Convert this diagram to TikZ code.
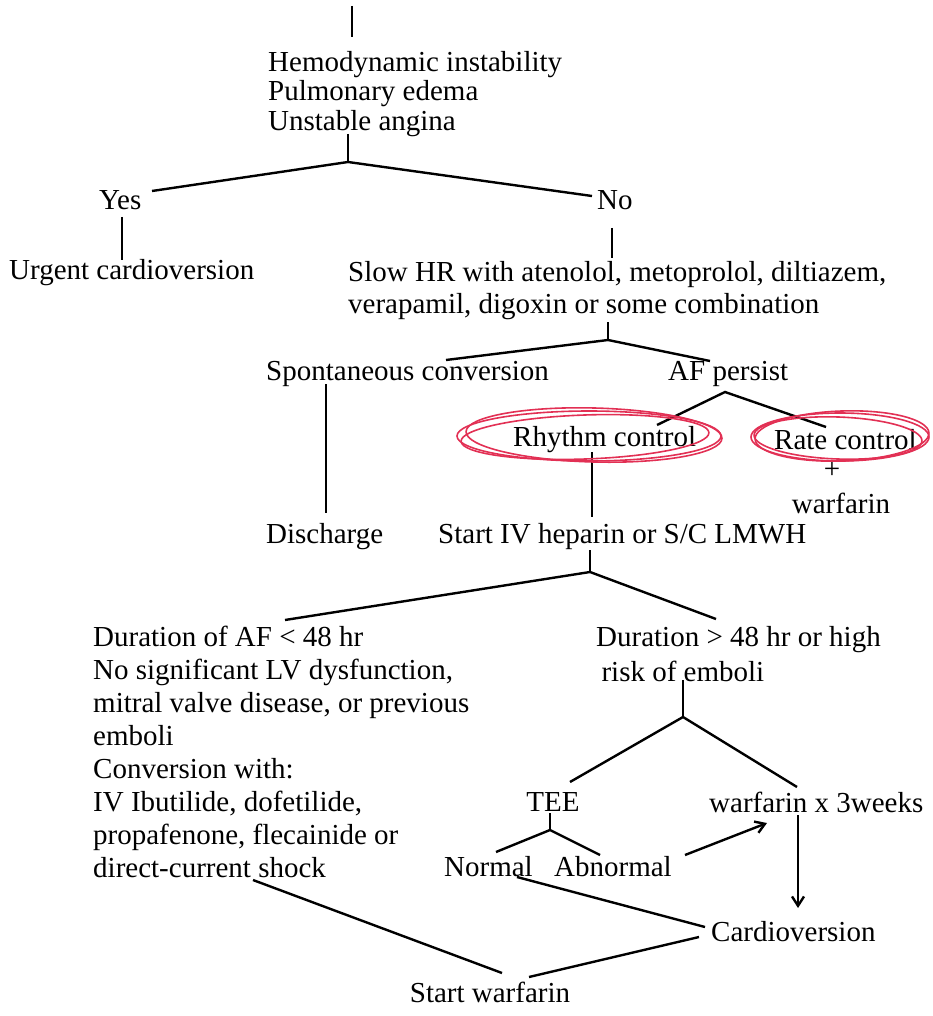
\documentclass[tikz,border=0pt]{standalone}
\usepackage{fontspec}
\setmainfont{Liberation Serif}
\usetikzlibrary{arrows.meta}

\definecolor{penred}{RGB}{226,48,84}

\tikzset{every picture/.style={line width=1.8pt}}
\tikzset{
  txt/.style={inner sep=0pt, anchor=west, align=left, font=\fontsize{21.75}{24.7}\selectfont},
  ctxt/.style={txt, anchor=center, align=center},
  penloop/.style={draw=penred, line width=1.2pt},
  barb/.style={-{Straight Barb[length=7pt,width=9pt]}}
}

\begin{document}
\begin{tikzpicture}[x=0.75pt,y=0.75pt,yscale=-1,xscale=1]
\useasboundingbox (0,0) rectangle (932,1016);

% Text Node
\node [txt, font=\fontsize{21.75}{22}\selectfont] (hemo) at (267,94) {Hemodynamic instability\\Pulmonary edema\\Unstable angina};
% Text Node
\node [txt] (yes) at (98,200) {Yes};
% Text Node
\node [txt] (no) at (596,200) {No};
% Text Node
\node [txt] (urgent) at (8,273) {Urgent cardioversion};
% Text Node
\node [txt, font=\fontsize{21.75}{24}\selectfont] (slow) at (347,291) {Slow HR with atenolol, metoprolol, diltiazem,\\verapamil, digoxin or some combination};
% Text Node
\node [txt] (spont) at (265,374) {Spontaneous conversion};
% Text Node
\node [txt] (afp) at (667,374) {AF persist};
% Text Node
\node [txt] (rhythm) at (512,440) {Rhythm control};
% Text Node
\node [txt] (rate) at (773,440) {Rate control};
% Text Node
\node [ctxt] (plus) at (832,470) {+};
% Text Node
\node [ctxt] (warf) at (841,503) {warfarin};
% Text Node
\node [txt] (disch) at (265,537) {Discharge};
% Text Node
\node [txt] (hep) at (437,537) {Start IV heparin or S/C LMWH};
% Text Node
\node [txt] (short) at (92,752) {Duration of AF < 48 hr\\No significant LV dysfunction,\\mitral valve disease, or previous\\emboli\\Conversion with:\\IV Ibutilide, dofetilide,\\propafenone, flecainide or\\direct-current shock};
% Text Node
\node [txt, font=\fontsize{21.75}{26.25}\selectfont] (long) at (595,654.5) {Duration > 48 hr or high\\\hspace*{4pt}risk of emboli};
% Text Node
\node [ctxt] (tee) at (553,802) {TEE};
% Text Node
\node [txt] (wthree) at (708,802) {warfarin x 3weeks};
% Text Node
\node [txt] (normal) at (443,867) {Normal};
% Text Node
\node [txt] (abnormal) at (553,867) {Abnormal};
% Text Node
\node [txt] (cardio) at (710,932) {Cardioversion};
% Text Node
\node [ctxt] (startw) at (490,992) {Start warfarin};

% branch points and line ends
\coordinate (top) at (352,6);
\coordinate (topend) at (352,37);
\coordinate (hemofoot) at (348,134);
\coordinate (jhemo) at (348,162);
\coordinate (yestip) at (152,191);
\coordinate (notip) at (592,196);
\coordinate (yesfoot) at (122,217);
\coordinate (urgenthead) at (122,260);
\coordinate (nofoot) at (612,228);
\coordinate (slowhead) at (612,258);
\coordinate (slowfoot) at (608,322);
\coordinate (jslow) at (608,340);
\coordinate (sponttip) at (446,360);
\coordinate (afptip) at (710,361);
\coordinate (spontfoot) at (326,384);
\coordinate (dischhead) at (326,513);
\coordinate (jafp) at (725,392);
\coordinate (rhythmtip) at (657,425);
\coordinate (ratetip) at (826,427);
\coordinate (rhythmfoot) at (592,452);
\coordinate (hephead) at (592,517);
\coordinate (hepfoot) at (590,550);
\coordinate (jhep) at (590,572);
\coordinate (shorttip) at (285,620);
\coordinate (longtip) at (716,619);
\coordinate (longfoot) at (683,680);
\coordinate (jlong) at (683,717);
\coordinate (teetip) at (570,782);
\coordinate (wthreetip) at (797,787);
\coordinate (teefoot) at (550,813);
\coordinate (jtee) at (550,830);
\coordinate (normaltip) at (496,852);
\coordinate (abnormaltip) at (600,855);
\coordinate (abnormalout) at (685,855);
\coordinate (wthreein) at (767,823);
\coordinate (wthreefoot) at (798,815);
\coordinate (cardiohead) at (798,908);
\coordinate (normalfoot) at (517,877);
\coordinate (cardiotipa) at (705,927);
\coordinate (shortfoot) at (253,880);
\coordinate (startwtipa) at (502,973);
\coordinate (cardiotipb) at (699,937);
\coordinate (startwtipb) at (529,977);

%Straight Lines
\draw (top) -- (topend);
\draw (hemofoot) -- (jhemo);
\draw (yestip) -- (jhemo) -- (notip);
\draw (yesfoot) -- (urgenthead);
\draw (nofoot) -- (slowhead);
%Straight Lines
\draw (slowfoot) -- (jslow);
\draw (sponttip) -- (jslow) -- (afptip);
\draw (spontfoot) -- (dischhead);
\draw (rhythmtip) -- (jafp) -- (ratetip);
\draw (rhythmfoot) -- (hephead);
%Straight Lines
\draw (hepfoot) -- (jhep);
\draw (shorttip) -- (jhep) -- (longtip);
\draw (longfoot) -- (jlong);
\draw (teetip) -- (jlong) -- (wthreetip);
\draw (teefoot) -- (jtee);
\draw (normaltip) -- (jtee) -- (abnormaltip);
%Arrows
\draw [barb] (abnormalout) -- (wthreein);
\draw [barb] (wthreefoot) -- (cardiohead);
%Straight Lines
\draw (normalfoot) -- (cardiotipa);
\draw (shortfoot) -- (startwtipa);
\draw (cardiotipb) -- (startwtipb);

%Shape: pen loops round the two choices
\draw [penloop] (589,436) ellipse [x radius=132, y radius=25];
\draw [penloop, rotate around={-2:(585,437)}] (585,437) ellipse [x radius=124, y radius=22];
\draw [penloop, rotate around={1.5:(594,435)}] (594,435) ellipse [x radius=128, y radius=27];
\draw [penloop] (840,437) ellipse [x radius=89, y radius=24];
\draw [penloop, rotate around={2:(838,438)}] (838,438) ellipse [x radius=84, y radius=21];
\draw [penloop, rotate around={-2:(842,436)}] (842,436) ellipse [x radius=87, y radius=25];

\end{tikzpicture}
\end{document}
